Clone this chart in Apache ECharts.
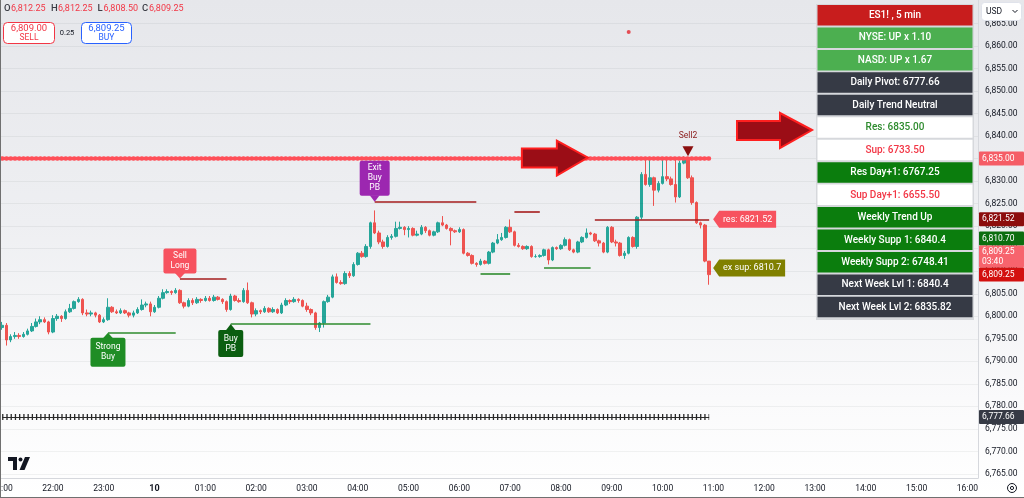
<!DOCTYPE html>
<html><head><meta charset="utf-8">
<script src="https://cdn.jsdelivr.net/npm/echarts@6/dist/echarts.min.js"></script>
<style>html,body{margin:0;padding:0;background:#fff}#c{width:1024px;height:498px}</style>
</head><body><div id="c"></div>
<script>
// ---------- DATA ----------
// 5-minute time slots starting 21:00
const times = [];
for (let k = 0; k < 231; k++) { const m = 21 * 60 + 5 * k; const h = Math.floor(m / 60) % 24, mm = m % 60; times.push(String(h).padStart(2, '0') + ':' + String(mm).padStart(2, '0')); }

// candles: [open, close, low, high]
const candles = [
[6797.5,6798,6797,6798.75],[6798,6794.75,6793.5,6798.5],[6794.75,6795.5,6794.25,6796],[6795.5,6795.75,6795,6796.5],
[6795.75,6795.5,6795,6796.25],[6795.5,6796,6795.25,6796.5],[6796,6796.75,6795.75,6797.25],[6796.75,6797.75,6796.5,6798.5],
[6797.75,6798.75,6797.5,6799.5],[6798.75,6799.25,6798.25,6800],[6799.25,6798.75,6798.5,6799.75],[6798.75,6796.5,6796,6799],
[6796.5,6799.5,6796.25,6800.25],[6799.5,6800,6799,6800.5],[6800,6799.5,6798.75,6800.25],[6799.5,6801,6799.25,6801.5],
[6801,6801.75,6800.75,6802.75],[6801.75,6803.25,6801.5,6803.5],[6803.25,6803.75,6803,6804.25],[6803.75,6800.75,6800.25,6804],
[6800.75,6800.5,6800,6801.5],[6800.5,6800.75,6800,6801.25],[6800.75,6800.25,6799.75,6801],[6800.25,6798.75,6798.5,6800.5],
[6798.75,6799.25,6798.5,6799.75],[6799.25,6802,6799,6804],[6802,6801,6800.75,6802.25],[6801,6800.75,6800.5,6801.5],
[6800.75,6801.25,6800.5,6801.75],[6801.25,6800.75,6800.5,6801.5],[6800.75,6800.25,6799.75,6801],[6800.25,6800.75,6799.75,6801.25],
[6800.75,6801.5,6800.5,6802],[6801.5,6802.5,6801.25,6803.75],[6802.5,6802.75,6802,6803.25],[6802.75,6801,6800,6803.25],
[6801,6802,6800.75,6802.5],[6802,6804,6801.75,6804.5],[6804,6805.25,6803.75,6806],[6805.25,6805.5,6805,6806],
[6805.5,6805.25,6804.75,6805.75],[6805.25,6805.75,6805,6806.25],[6805.75,6803,6802.75,6806],[6803,6802.25,6801.75,6803.25],
[6802.25,6803.5,6802,6804],[6803.5,6803,6802.5,6804],[6803,6803.75,6802.75,6804.25],[6803.75,6803.5,6803,6804],
[6803.5,6804,6803.25,6804.5],[6804,6803.5,6803.25,6804.5],[6803.5,6804.25,6803.25,6804.75],[6804.25,6803.75,6803.5,6804.5],
[6803.75,6803.25,6802.75,6804],[6803.25,6801.5,6801,6803.5],[6801.5,6804.5,6801.25,6805],[6804.5,6803.5,6803.25,6804.75],
[6803.5,6803.25,6803,6804],[6803.25,6805.75,6803,6806.25],[6805.75,6803,6802.75,6807.5],[6803,6800.5,6799.75,6803.25],
[6800.5,6801.25,6800,6801.75],[6801.25,6801,6800.5,6801.5],[6801,6801.75,6800.75,6802.25],[6801.75,6801,6800.75,6802],
[6801,6801.5,6800.75,6802],[6801.5,6800.75,6800.5,6801.75],[6800.75,6802.5,6800.5,6803],[6802.5,6803.5,6802.25,6804],
[6803.5,6803.25,6802.75,6803.75],[6803.25,6803.75,6803,6804.25],[6803.75,6803.5,6803,6804],[6803.5,6802.25,6802,6803.75],
[6802.25,6801.5,6801,6803],[6801.5,6800.75,6800.25,6801.75],[6800.75,6797.5,6797,6801],[6797.5,6798.5,6796.5,6798.75],
[6798.5,6803.25,6797.5,6803.5],[6803.25,6804.25,6803,6804.75],[6804.25,6808.75,6804,6809.25],[6808.75,6807.5,6807.25,6809.5],
[6807.5,6807.25,6807,6808],[6807.25,6809.5,6807,6810],[6809.5,6809,6808.5,6810],[6809,6811.5,6808.75,6812],
[6811.5,6814,6811.25,6814.25],[6814,6813.25,6813,6814.5],[6813.25,6815.5,6813,6816],[6815.5,6820.75,6815,6821],
[6820.75,6818.5,6818.25,6823.5],[6818.5,6816.5,6816,6819],[6816.5,6815.5,6815,6817],[6815.5,6817.5,6815.25,6818],
[6817.5,6817.75,6817,6818.25],[6817.75,6819.5,6817.5,6821],[6819.5,6819.75,6819.25,6821],[6819.75,6819.25,6818,6820],
[6819.25,6819.5,6817.5,6820],[6819.5,6818,6817.75,6819.75],[6818,6818.25,6817.75,6819],[6818.25,6819.75,6818,6820.25],
[6819.75,6819,6818.5,6820],[6819,6818,6817.75,6819.25],[6818,6818.75,6817.75,6819],[6818.75,6820.75,6818.5,6821],
[6820.75,6820.25,6820,6822.25],[6820.25,6819.5,6819.25,6820.5],[6819.5,6819,6815.75,6819.75],[6819,6818.75,6818.5,6819.25],
[6818.75,6819.25,6818.5,6819.75],[6819.25,6814,6813.75,6819.5],[6814,6813.5,6813.25,6814.25],[6813.5,6811.75,6811.5,6813.75],
[6811.75,6811.5,6811,6812],[6811.5,6812.25,6811.25,6812.75],[6812.25,6811.75,6811.5,6812.5],[6811.75,6814.25,6811.5,6814.5],
[6814.25,6816.25,6814,6816.5],[6816.25,6817,6816,6818.25],[6817,6817.5,6816.75,6818.5],[6817.5,6819.75,6817.25,6820],
[6819.75,6818.75,6818.5,6821.5],[6818.75,6815.75,6815.5,6819],[6815.75,6815.5,6815.25,6816.25],[6815.5,6815,6814.75,6815.75],
[6815,6815.5,6814.75,6815.75],[6815.5,6813.25,6813,6815.75],[6813.25,6813.25,6813,6813.75],[6813.25,6813.5,6813,6813.75],
[6813.5,6814.75,6813.25,6815],[6814.75,6812.5,6811.5,6815],[6812.5,6815.25,6812.25,6815.5],[6815.25,6815,6814.75,6815.5],
[6815,6815.75,6814.75,6816],[6815.75,6817,6815.5,6817.5],[6817,6814.75,6814.5,6817.25],[6814.75,6814.25,6814,6815],
[6814.25,6816.5,6814,6816.75],[6816.5,6817.5,6816.25,6817.75],[6817.5,6818.5,6817.25,6819.5],[6818.5,6818.25,6818,6818.75],
[6818.25,6816.75,6816.5,6818.5],[6816.75,6816.25,6815.5,6817],[6816.25,6814.25,6814,6816.5],[6814.25,6819.75,6814,6820],
[6819.75,6816.5,6816.25,6820],[6816.5,6816.25,6815.5,6817],[6816.25,6813.5,6813.25,6816.5],[6813.5,6814,6812.75,6814.5],
[6814,6817.5,6813.75,6817.75],[6817.5,6815.5,6815.25,6817.75],[6815.5,6822,6815,6822.25],[6822,6831.5,6821.5,6832],
[6831.5,6829.25,6829,6835.25],[6829.25,6830.75,6828.75,6835.25],[6830.75,6828,6824.5,6831],[6828,6829.5,6827.5,6830],
[6829.5,6831,6829.25,6834.75],[6831,6830.5,6830,6835],[6830.5,6829.25,6829,6831],[6829.25,6826.5,6825.25,6835],
[6826.5,6834,6826.25,6834.5],[6834,6834.75,6833.75,6835.5],[6834.75,6830.75,6830.5,6835],[6830.75,6825.25,6824.75,6831.25],
[6825.25,6820.75,6820.5,6825.5],[6820.75,6820.25,6819.5,6821],[6820.25,6812.25,6812,6820.5],[6812.25,6809.25,6807,6812.25]
];

const priceTicks = [6765,6770,6775,6780,6785,6790,6795,6800,6805,6810,6815,6820,6825,6830,6835,6840,6845,6850,6855,6860,6865];

// level segments (start slot, end slot, price, kind)
const levelStart = [25, 42, 54, 88, 113, 121, 128, 140];
const levelEnd   = [41, 53, 87, 112, 120, 127, 139, 167];
const levelPrice = [6796.35, 6808.4, 6798.3, 6825.4, 6809.5, 6823.1, 6810.8, 6821.52];
const levelKind  = ['sup','res','sup','res','sup','res','sup','res'];

const resDotted = 6835.00;
const pivotLevel = 6777.66;
const lineFrom = 0, lineTo = 167;

// signal labels
const signalIdx   = [25, 42, 54, 88];
const signalPrice = [6796.35, 6808.4, 6798.3, 6825.4];
const signalText  = ['Strong\nBuy', 'Sell\nLong', 'Buy\nPB', 'Exit\nBuy\nPB'];
const signalSide  = ['below', 'above', 'below', 'above'];

// side labels
const sideIdx   = [167, 167];
const sidePrice = [6821.52, 6810.7];
const sideText  = ['res: 6821.52', 'ex sup: 6810.7'];

const sellIdx = [162], sellPrice = [6835.5], sellText = ['Sell2'];
const arrowIdx = [138], arrowPrice = [6835.0];
const dotIdx = [148], dotPrice = [6863.1];

// axis price tags
const tagValues = [6835.00, 6821.52, 6810.70, 6809.25, 6809.25, 6777.66];
const tagSub    = ['', '', '', '03:40', '', ''];

const header = [['O','6,812.25'],['H','6,812.25'],['L','6,808.50'],['C','6,809.25']];
const sellQuote = '6,809.00', buyQuote = '6,809.25', spread = '0.25';

const tableRows = ['ES1! , 5 min','NYSE: UP x 1.10','NASD: UP x 1.67','Daily Pivot: 6777.66','Daily Trend Neutral',
 'Res: 6835.00','Sup: 6733.50','Res Day+1: 6767.25','Sup Day+1: 6655.50','Weekly Trend Up',
 'Weekly Supp 1: 6840.4','Weekly Supp 2: 6748.41','Next Week Lvl 1: 6840.4','Next Week Lvl 2: 6835.82'];

// ---------- STYLE ----------
const F = 'Roboto, "Noto Sans", sans-serif';
const UP = '#26a69a', DN = '#ef5350';
const levelColor = { sup: '#2e8b2e', res: '#a51c1c' };
const signalLook = [
  { bg: '#1f8d25', w: 35, h: 29, gap: 5 },
  { bg: '#f7525f', w: 33, h: 25, gap: 5 },
  { bg: '#0b5e10', w: 25, h: 27, gap: 6 },
  { bg: '#9c27b0', w: 30, h: 35, gap: 6 }
];
const sideLook = [{ bg: '#f7525f', w: 57 }, { bg: '#808000', w: 66 }];
const tagLook = ['#f55d66', '#8c0c0c', '#0c6e10', '#f7646d', '#d3100f', '#363a45'];
const rowLook = [
  ['#c81d1d','#fff'],['#4caf50','#fff'],['#4caf50','#fff'],['#363a45','#fff'],['#363a45','#fff'],
  ['#ffffff','#2e8b2e'],['#ffffff','#f23645'],['#0b7d0d','#fff'],['#ffffff','#f23645'],['#0b7d0d','#fff'],
  ['#0b7d0d','#fff'],['#0b7d0d','#fff'],['#363a45','#fff'],['#363a45','#fff']
];

const chart = echarts.init(document.getElementById('c'), null, { renderer: 'canvas' });

function renderSignal(params, api) {
  const i = params.dataIndex, L = signalLook[i];
  const p = api.coord([api.value(0), api.value(1)]);
  let tri, box;
  if (signalSide[i] === 'below') {
    tri = [[p[0], p[1]], [p[0] - 5, p[1] + L.gap + 0.5], [p[0] + 5, p[1] + L.gap + 0.5]];
    box = { x: p[0] - L.w / 2, y: p[1] + L.gap, width: L.w, height: L.h };
  } else {
    tri = [[p[0], p[1]], [p[0] - 5, p[1] - L.gap - 0.5], [p[0] + 5, p[1] - L.gap - 0.5]];
    box = { x: p[0] - L.w / 2, y: p[1] - L.gap - L.h, width: L.w, height: L.h };
  }
  return { type: 'group', children: [
    { type: 'polygon', shape: { points: tri }, style: { fill: L.bg } },
    { type: 'rect', shape: Object.assign({ r: 2 }, box), style: { fill: L.bg } },
    { type: 'text', style: { text: signalText[i], x: box.x + box.width / 2, y: box.y + box.height / 2, align: 'center', verticalAlign: 'middle', fill: '#fff', fontSize: 8.5, fontFamily: F, lineHeight: 10 } }
  ] };
}
function renderSide(params, api) {
  const i = params.dataIndex, L = sideLook[i];
  const p = api.coord([api.value(0), api.value(1)]);
  const x0 = p[0] + 4, y = p[1], h = 17;
  const pts = [[x0, y], [x0 + 6, y - h / 2], [x0 + 6 + L.w, y - h / 2], [x0 + 6 + L.w, y + h / 2], [x0 + 6, y + h / 2]];
  return { type: 'group', children: [
    { type: 'polygon', shape: { points: pts }, style: { fill: L.bg } },
    { type: 'text', style: { text: sideText[i], x: x0 + 6 + L.w / 2, y: y, align: 'center', verticalAlign: 'middle', fill: '#fff', fontSize: 9, fontFamily: F } }
  ] };
}
function renderSell(params, api) {
  const p = api.coord([api.value(0), api.value(1)]);
  return { type: 'group', children: [
    { type: 'polygon', shape: { points: [[p[0], p[1]], [p[0] - 5.5, p[1] - 10], [p[0] + 5.5, p[1] - 10]] }, style: { fill: '#8b0f0f' } },
    { type: 'text', style: { text: sellText[params.dataIndex], x: p[0], y: p[1] - 20, align: 'center', verticalAlign: 'middle', fill: '#8b1a1a', fontSize: 8.5, fontFamily: F } }
  ] };
}
function renderArrow(params, api) {
  const p = api.coord([api.value(0), api.value(1)]);
  const x = p[0] + 1.5, y = p[1] - 1;
  const pts = [[x, y], [x - 31, y - 17], [x - 31, y - 9], [x - 66, y - 9], [x - 66, y + 10], [x - 31, y + 10], [x - 31, y + 18]];
  return { type: 'polygon', shape: { points: pts }, style: { fill: '#9b0d16', stroke: '#ff1f1f', lineWidth: 2, lineJoin: 'miter' } };
}

const levelLines = levelStart.map((s, k) => [
  { coord: [s, levelPrice[k]], lineStyle: { color: levelColor[levelKind[k]], width: 1.6, type: 'solid' } },
  { coord: [levelEnd[k], levelPrice[k]] }
]);
levelLines.push([{ coord: [lineFrom, resDotted], lineStyle: { color: '#ff4f58', width: 4.6, type: [0.4, 3.83], cap: 'round' } }, { coord: [lineTo + 0.4, resDotted] }]);
levelLines.push([{ coord: [lineFrom, pivotLevel], lineStyle: { color: '#2a2a2a', width: 1, type: 'solid' } }, { coord: [lineTo + 0.4, pivotLevel] }]);
levelLines.push([{ coord: [lineFrom, pivotLevel], lineStyle: { color: '#2a2a2a', width: 6, type: [1.3, 2.93], cap: 'butt' } }, { coord: [lineTo + 0.4, pivotLevel] }]);

const yMin = 6764.1, yMax = 6870.21;

chart.setOption({
  animation: false,
  backgroundColor: { type: 'linear', x: 0, y: 0, x2: 0, y2: 1, colorStops: [
    { offset: 0, color: '#e6e7eb' }, { offset: 0.45, color: '#eeeff2' }, { offset: 0.8, color: '#fafafb' }, { offset: 1, color: '#ffffff' } ] },
  grid: { left: 0, right: 46, top: 0, bottom: 20, containLabel: false, outerBoundsMode: 'none' },
  xAxis: {
    type: 'category', data: times, boundaryGap: true,
    axisLine: { show: true, lineStyle: { color: '#d6d8dd' } },
    axisTick: { show: false },
    splitLine: { show: false },
    axisLabel: {
      interval: (i, v) => v.endsWith(':00'),
      formatter: v => v === '00:00' ? '{d|10}' : v,
      color: '#131722', fontSize: 8.5, fontFamily: F, margin: 6,
      rich: { d: { fontWeight: 'bold', fontSize: 9, color: '#131722', fontFamily: F } }
    }
  },
  yAxis: {
    type: 'value', position: 'right', min: yMin, max: yMax, scale: true,
    axisLine: { show: true, lineStyle: { color: '#d6d8dd' } },
    axisTick: { show: false },
    splitLine: { show: false },
    axisLabel: {
      customValues: priceTicks,
      formatter: v => Number(v).toLocaleString('en-US', { minimumFractionDigits: 2, maximumFractionDigits: 2 }),
      color: '#131722', fontSize: 8.5, fontFamily: F, margin: 7
    }
  },
  series: [
    { type: 'line', data: [], z: 1, silent: true,
      markLine: { silent: true, symbol: ['none', 'none'], label: { show: false },
        data: priceTicks.map(v => ({ yAxis: v, lineStyle: { color: 'rgba(42,46,57,0.06)', width: 1, type: 'solid' } })) } },
    { type: 'candlestick', data: candles, barWidth: 3, z: 3,
      itemStyle: { color: UP, color0: DN, borderColor: UP, borderColor0: DN, borderWidth: 1 },
      markLine: { silent: true, symbol: ['none', 'none'], label: { show: false }, data: levelLines } },
    { type: 'custom', renderItem: renderSignal, data: signalIdx.map((x, k) => [x, signalPrice[k]]), z: 10, silent: true },
    { type: 'custom', renderItem: renderSide, data: sideIdx.map((x, k) => [x, sidePrice[k]]), z: 10, silent: true },
    { type: 'custom', renderItem: renderSell, data: sellIdx.map((x, k) => [x, sellPrice[k]]), z: 10, silent: true },
    { type: 'custom', renderItem: renderArrow, data: arrowIdx.map((x, k) => [x, arrowPrice[k]]), z: 11, silent: true },
    { type: 'scatter', data: dotIdx.map((x, k) => [x, dotPrice[k]]), symbolSize: 4, itemStyle: { color: '#e3262e' }, z: 5, silent: true }
  ]
});

// ---------- overlay graphics ----------
const g = [];
const tagY = new Array(tagValues.length);
let prevTop = Infinity;
for (let i = tagValues.length - 1; i >= 0; i--) {
  const h = tagSub[i] ? 22 : 14;
  const nat = chart.convertToPixel({ yAxisIndex: 0 }, tagValues[i]);
  const c = Math.min(nat, prevTop - h / 2);
  tagY[i] = c; prevTop = c - h / 2;
}
tagValues.forEach((v, i) => {
  const h = tagSub[i] ? 22 : 14, c = tagY[i];
  const txt = v.toLocaleString('en-US', { minimumFractionDigits: 2, maximumFractionDigits: 2 });
  g.push({ type: 'rect', z: 100, shape: { x: 979, y: c - h / 2, width: 45, height: h, r: 1 }, style: { fill: tagLook[i] } });
  if (tagSub[i]) {
    g.push({ type: 'text', z: 101, style: { text: txt, x: 982, y: c - 5, verticalAlign: 'middle', fill: '#fff', fontSize: 8.5, fontFamily: F } });
    g.push({ type: 'text', z: 101, style: { text: tagSub[i], x: 982, y: c + 5, verticalAlign: 'middle', fill: '#fff', fontSize: 8.5, fontFamily: F } });
  } else {
    g.push({ type: 'text', z: 101, style: { text: txt, x: 982, y: c, verticalAlign: 'middle', fill: '#fff', fontSize: 8.5, fontFamily: F } });
  }
});
g.push({ type: 'rect', z: 90, shape: { x: 816, y: 4, width: 158, height: 316 }, style: { fill: '#d6d8dc' } });
tableRows.forEach((t, k) => {
  const y = 5 + 22.45 * k;
  g.push({ type: 'rect', z: 91, shape: { x: 817.5, y: y, width: 155, height: 20.5 }, style: { fill: rowLook[k][0] } });
  g.push({ type: 'text', z: 92, style: { text: t, x: 895, y: y + 10.5, align: 'center', verticalAlign: 'middle', fill: rowLook[k][1], fontSize: 10, fontFamily: F, fontWeight: 500 } });
});
g.push({ type: 'polygon', z: 95, shape: { points: [[812, 130], [780, 113], [780, 121], [737, 121], [737, 140], [780, 140], [780, 148]] }, style: { fill: '#9b0d16', stroke: '#ff1f1f', lineWidth: 2 } });
const hx = [[4, 11], [51, 58], [97.5, 103.5], [142, 149]];
header.forEach((h, k) => {
  g.push({ type: 'text', z: 95, style: { text: h[0], x: hx[k][0], y: 9, verticalAlign: 'middle', fill: '#3b3d45', fontSize: 9.5, fontFamily: F, fontWeight: 500 } });
  g.push({ type: 'text', z: 95, style: { text: h[1], x: hx[k][1], y: 9, verticalAlign: 'middle', fill: '#f23645', fontSize: 9, fontFamily: F } });
});
g.push({ type: 'rect', z: 95, shape: { x: 3.5, y: 22.5, width: 51, height: 21, r: 4 }, style: { fill: '#fff', stroke: '#f23645', lineWidth: 1 } });
g.push({ type: 'text', z: 96, style: { text: sellQuote, x: 29, y: 28.5, align: 'center', verticalAlign: 'middle', fill: '#f23645', fontSize: 9.5, fontFamily: F } });
g.push({ type: 'text', z: 96, style: { text: 'SELL', x: 29, y: 38, align: 'center', verticalAlign: 'middle', fill: '#f23645', fontSize: 8.5, fontFamily: F } });
g.push({ type: 'text', z: 96, style: { text: spread, x: 67, y: 33, align: 'center', verticalAlign: 'middle', fill: '#131722', fontSize: 7.5, fontFamily: F } });
g.push({ type: 'rect', z: 95, shape: { x: 81.5, y: 22.5, width: 50, height: 21, r: 4 }, style: { fill: '#fff', stroke: '#2962ff', lineWidth: 1 } });
g.push({ type: 'text', z: 96, style: { text: buyQuote, x: 106.5, y: 28.5, align: 'center', verticalAlign: 'middle', fill: '#2962ff', fontSize: 9.5, fontFamily: F } });
g.push({ type: 'text', z: 96, style: { text: 'BUY', x: 106.5, y: 38, align: 'center', verticalAlign: 'middle', fill: '#2962ff', fontSize: 8.5, fontFamily: F } });
g.push({ type: 'rect', z: 95, shape: { x: 981.5, y: 2.5, width: 40, height: 18, r: 3 }, style: { fill: '#fff', stroke: '#e0e3eb', lineWidth: 1 } });
g.push({ type: 'text', z: 96, style: { text: 'USD', x: 986, y: 11.5, verticalAlign: 'middle', fill: '#131722', fontSize: 8.5, fontFamily: F } });
g.push({ type: 'polyline', z: 96, shape: { points: [[1012.5, 10], [1015, 12.5], [1017.5, 10]] }, style: { stroke: '#131722', lineWidth: 1, fill: null } });
g.push({ type: 'circle', z: 96, shape: { cx: 1012, cy: 488, r: 4.5 }, style: { stroke: '#131722', lineWidth: 1, fill: null } });
g.push({ type: 'circle', z: 96, shape: { cx: 1012, cy: 488, r: 1.6 }, style: { stroke: '#131722', lineWidth: 1, fill: null } });
g.push({ type: 'rect', z: 96, shape: { x: 8, y: 457, width: 9, height: 4 }, style: { fill: '#131722' } });
g.push({ type: 'rect', z: 96, shape: { x: 13, y: 457, width: 4, height: 13 }, style: { fill: '#131722' } });
g.push({ type: 'circle', z: 96, shape: { cx: 20.5, cy: 459.5, r: 2 }, style: { fill: '#131722' } });
g.push({ type: 'polygon', z: 96, shape: { points: [[25, 457], [30, 457], [24.5, 470], [19.5, 470]] }, style: { fill: '#131722' } });
g.push({ type: 'line', z: 97, shape: { x1: 0.5, y1: 0, x2: 0.5, y2: 498 }, style: { stroke: '#707070', lineWidth: 1 } });
g.push({ type: 'line', z: 97, shape: { x1: 0, y1: 497.5, x2: 1024, y2: 497.5 }, style: { stroke: '#707070', lineWidth: 1 } });

chart.setOption({ graphic: g });
</script>
</body></html>
